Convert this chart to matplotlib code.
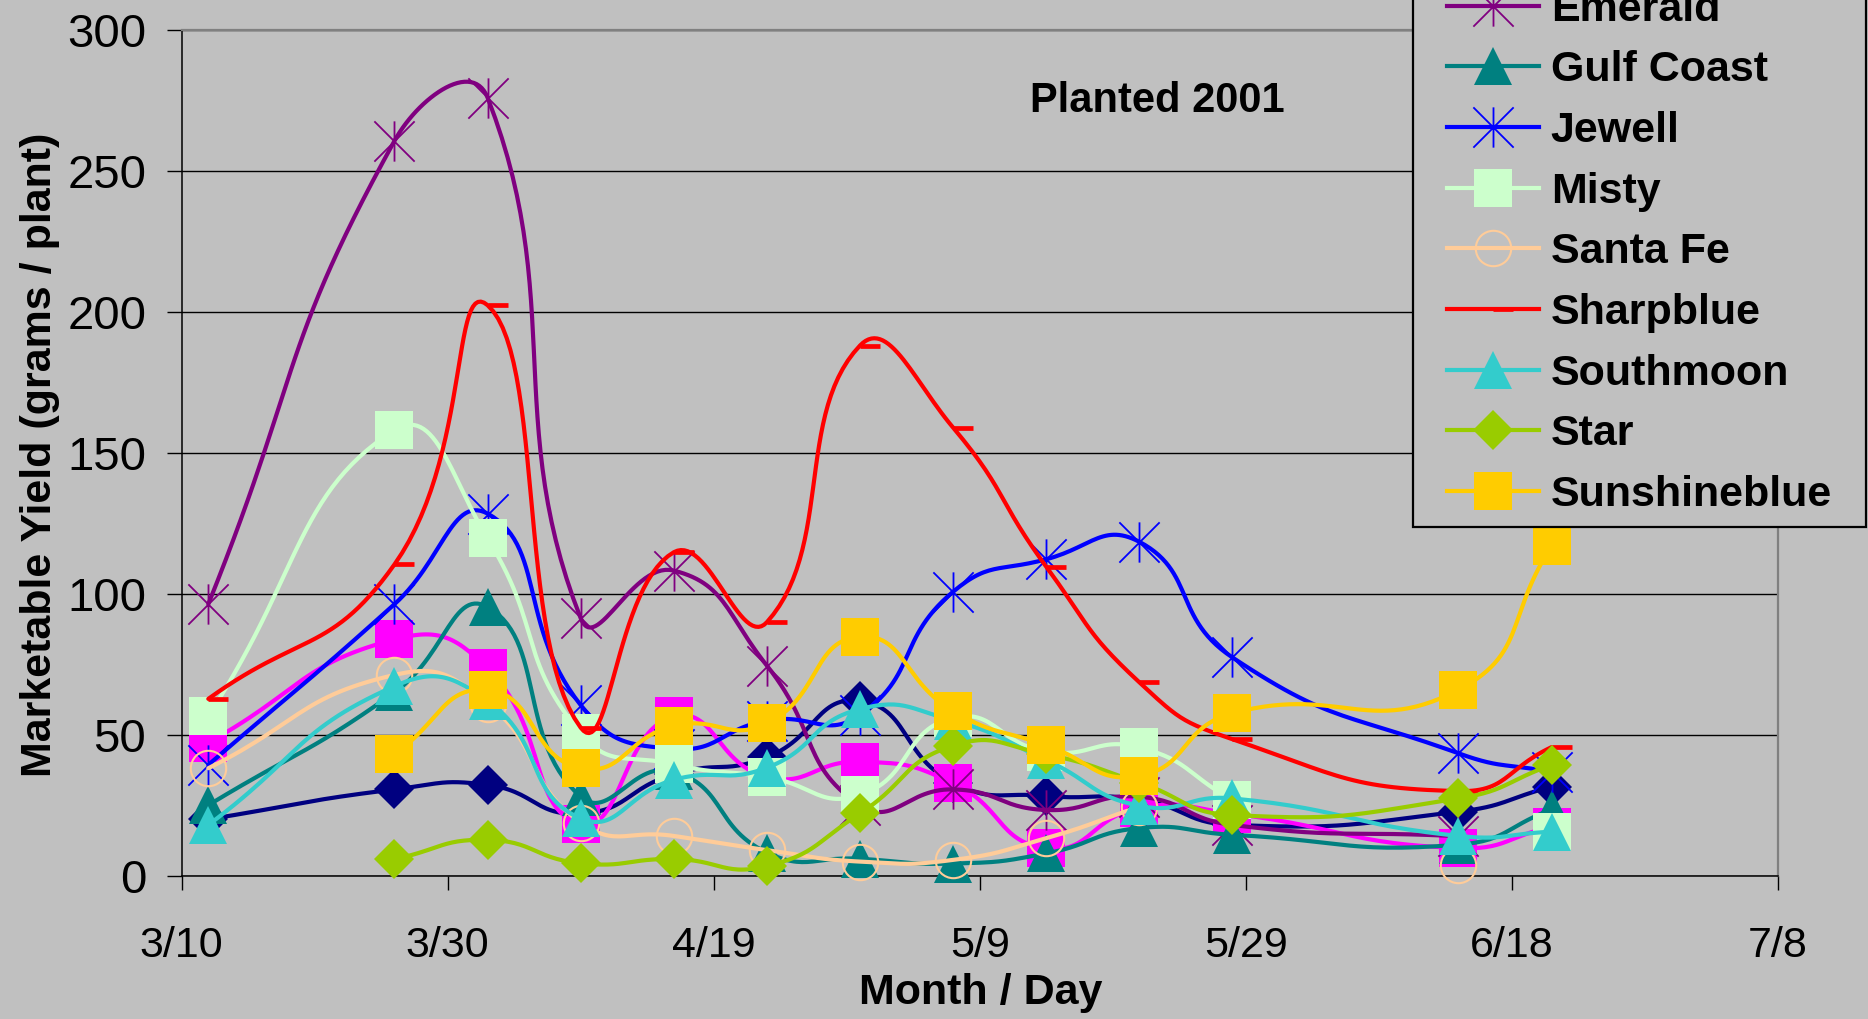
import numpy as np
import pandas as pd
import matplotlib
matplotlib.use("Agg")
import matplotlib.pyplot as plt
import matplotlib.dates as mdates
from matplotlib.path import Path
from matplotlib.lines import Line2D
from matplotlib.patches import Rectangle

plt.rcParams['font.family'] = ['Liberation Sans', 'DejaVu Sans']

nan = np.nan
# ---------------- data ----------------
harvest_dates = ["3/12", "3/26", "4/2", "4/9", "4/16", "4/23", "4/30",
                 "5/7", "5/14", "5/21", "5/28", "6/14", "6/21"]
season_year = 2002
axis_start = "3/10"
axis_end = "7/8"
tick_step_days = 20

navy_series = [20, 30.6, 32.2, 22, 36, 42, 62, 33, 28.3, 27, 18, 22.7, 31.6]
magenta_series = [47.2, 83.8, 73.5, 18.4, 56.5, 35, 40.4, 32.8, 9.7, 24, 22, 9.8, 17.4]
emerald = [96.3, 260.6, 275.9, 91.3, 108.2, 74.5, 25, 30.6, 23.3, 28, 18, 14, nan]
gulf_coast = [25, 65, 95.3, 28, 37, 8.2, 6, 4.3, 7.9, 16.9, 14.5, 11, 23.5]
jewell = [39.3, 96.3, 128.4, 60.5, 45, 55, 57, 100.7, 112.2, 118.4, 77.4, 43.4, 36.7]
misty = [56.6, 158, 119.6, 50.5, 39.5, 35, 28.6, 56, 44, 45.5, 26.8, nan, 15.5]
santa_fe = [38.1, 71.2, 61, 18.8, 14.1, 9.1, 5, 5.6, 13.3, 24.5, nan, 3.8, nan]
sharpblue = [62.7, 110.4, 202.3, 52.5, 114.7, 89.9, 188, 158.9, 109.6, 68.6, 48.4, 30, 45.6]
southmoon = [18, 67.2, 62, 20.3, 34, 38.3, 59.1, 55, 41, 24.8, 27.4, 14.1, 15.6]
star = [nan, 5.9, 12.7, 4.4, 5.9, 3.4, 22.1, 46.1, 43, 33, 21.5, 27.4, 39.3]
sunshineblue = [nan, 43.2, 65.9, 38.1, 53.1, 54, 84.8, 58.4, 46.3, 35.4, 57.6, 65.9, 116.9]

# ---------------- markers ----------------
asterisk = Path([(0, -1), (0, 1), (-1, -1), (1, 1), (-1, 1), (1, -1)],
                [Path.MOVETO, Path.LINETO, Path.MOVETO, Path.LINETO, Path.MOVETO, Path.LINETO])
dash = Path([(0, 0), (1, 0)], [Path.MOVETO, Path.LINETO])

# (label, values, color, marker, markersize, mfc, mew)
series = [
    (None, navy_series, '#000080', 'D', 20, '#000080', 0),
    (None, magenta_series, '#FF00FF', 's', 27, '#FF00FF', 0),
    ('Emerald', emerald, '#800080', asterisk, 29, '#800080', 1.3),
    ('Gulf Coast', gulf_coast, '#008080', '^', 28, '#008080', 0),
    ('Jewell', jewell, '#0000FF', asterisk, 29, '#0000FF', 1.3),
    ('Misty', misty, '#CCFFCC', 's', 27, '#CCFFCC', 0),
    ('Santa Fe', santa_fe, '#FFCC99', 'o', 25.5, 'none', 1.5),
    ('Sharpblue', sharpblue, '#FF0000', dash, 29, '#FF0000', 3.4),
    ('Southmoon', southmoon, '#33CCCC', '^', 28, '#33CCCC', 0),
    ('Star', star, '#99CC00', 'D', 20, '#99CC00', 0),
    ('Sunshineblue', sunshineblue, '#FFCC00', 's', 27, '#FFCC00', 0),
]
LW = 3.0

W, H = 1868, 1019
fig = plt.figure(figsize=(W / 100, H / 100), dpi=100, facecolor='#C0C0C0')
ax_l, ax_r, ax_t, ax_b = 181.7, 1777.7, 29.7, 875.7
ax = fig.add_axes([ax_l / W, (H - ax_b) / H, (ax_r - ax_l) / W, (ax_b - ax_t) / H])
ax.set_facecolor('#C0C0C0')


def to_date(s):
    m, d = s.split('/')
    return pd.Timestamp(year=season_year, month=int(m), day=int(d))


x_dates = [to_date(s) for s in harvest_dates]
x_num = mdates.date2num(x_dates)
x0 = mdates.date2num(to_date(axis_start))
x1 = mdates.date2num(to_date(axis_end))
ax.set_xlim(x0, x1)
ax.set_ylim(0, 300)
tick_dates = pd.date_range(to_date(axis_start), to_date(axis_end), freq=f'{tick_step_days}D')
ax.set_xticks(mdates.date2num(tick_dates))
ax.set_xticklabels([f"{d.month}/{d.day}" for d in tick_dates])
ax.set_yticks(np.arange(0, 301, 50))

ax.yaxis.grid(True, color='#000000', lw=1.0)
ax.set_axisbelow(True)
for s in ['top', 'right']:
    ax.spines[s].set_color('#808080')
    ax.spines[s].set_linewidth(1.6)
for s in ['left', 'bottom']:
    ax.spines[s].set_color('#000000')
    ax.spines[s].set_linewidth(1.1)
ax.tick_params(axis='y', length=10.6, width=1, pad=15, labelsize=34, direction='out')
ax.tick_params(axis='x', length=10, width=1, pad=26, labelsize=31, direction='out')


def smooth_display(P, t=0.5, n=30):
    m = len(P)
    if m < 2:
        return P
    out = [P[0]]
    for i in range(m - 1):
        p0 = P[i - 1] if i > 0 else P[i]
        p1 = P[i]
        p2 = P[i + 1]
        p3 = P[i + 2] if i + 2 < m else P[i + 1]
        d01 = np.hypot(*(p1 - p0))
        d12 = np.hypot(*(p2 - p1))
        d23 = np.hypot(*(p3 - p2))
        fb = t * d12 / (d01 + d12) if d01 + d12 > 0 else 0
        fa = t * d12 / (d12 + d23) if d12 + d23 > 0 else 0
        c1 = p1 + fb * (p2 - p0)
        c2 = p2 - fa * (p3 - p1)
        s = np.linspace(0, 1, n)[1:, None]
        B = (1 - s) ** 3 * p1 + 3 * (1 - s) ** 2 * s * c1 + 3 * (1 - s) * s ** 2 * c2 + s ** 3 * p2
        out.extend(B)
    return np.array(out)


trans = ax.transData
inv = trans.inverted()
handles, labels = [], []
for k, (label, vals, color, marker, ms, mfc, mew) in enumerate(series):
    y = np.array(vals, dtype=float)
    z = 3 + k * 0.1
    valid = ~np.isnan(y)
    idx = np.where(valid)[0]
    runs = []
    if len(idx):
        start = idx[0]
        prev = idx[0]
        for j in idx[1:]:
            if j != prev + 1:
                runs.append((start, prev))
                start = j
            prev = j
        runs.append((start, prev))
    for a, b in runs:
        pts = np.column_stack([x_num[a:b + 1], y[a:b + 1]])
        if len(pts) < 2:
            continue
        disp = trans.transform(pts)
        curve = inv.transform(smooth_display(disp))
        ax.plot(curve[:, 0], curve[:, 1], color=color, lw=LW, zorder=z,
                solid_capstyle='round', solid_joinstyle='round')
    mec = color
    ax.plot(x_num[valid], y[valid], ls='none', marker=marker, ms=ms, mfc=mfc,
            mec=mec, mew=mew, zorder=z + 0.05, clip_on=False)
    if label:
        handles.append(Line2D([], [], color=color, lw=LW, marker=marker, ms=ms,
                              mfc=mfc, mec=mec, mew=mew))
        labels.append(label)

ax.text(0.611, 0.916, 'Planted 2001', transform=ax.transAxes, ha='center', va='center',
        fontsize=30, fontweight='bold')

fig.text(40 / W, 1 - 455 / H, 'Marketable Yield (grams / plant)', rotation=90,
         ha='center', va='center', fontsize=31, fontweight='bold')
fig.text(981 / W, 1 - 1004 / H, 'Month / Day', ha='center', va='baseline',
         fontsize=31, fontweight='bold')

# legend frame (extends beyond the top edge of the figure)
box_l, box_r, box_b = 1412.7, 1866, 527
fig.patches.append(Rectangle((box_l / W, (H - box_b) / H), (box_r - box_l) / W, 0.6,
                             transform=fig.transFigure, facecolor='#C0C0C0',
                             edgecolor='#000000', lw=1.6, zorder=4.5))
leg = fig.legend(handles, labels, loc='lower left',
                 bbox_to_anchor=(1446.7 / W, (H - 515) / H), borderaxespad=0,
                 borderpad=0, frameon=False, numpoints=1, handlelength=2.153,
                 handletextpad=0.265, labelspacing=0.48,
                 prop={'weight': 'bold', 'size': 31})
leg.set_zorder(5)

fig.savefig('out.png', dpi=100, facecolor='#C0C0C0')
